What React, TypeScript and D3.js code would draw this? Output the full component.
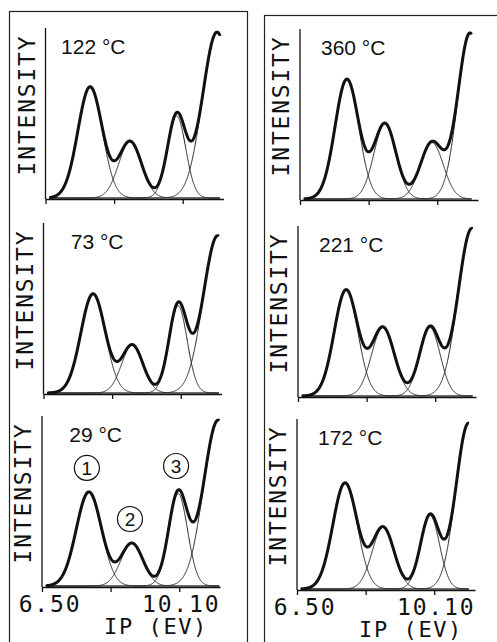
import * as d3 from 'd3';
import { useEffect, useRef } from 'react';

// panels: left column top→bottom, then right column top→bottom
const temperatures = ['122 °C', '73 °C', '29 °C', '360 °C', '221 °C', '172 °C'];

// fitted components (eV): bands 1, 2, 3 and the rising edge
const peakCenters = [
  [7.67, 8.72, 9.94, 11.0],
  [7.8, 8.83, 10.03, 11.07],
  [7.73, 8.86, 10.07, 11.12],
  [7.73, 8.73, 9.96, 10.96],
  [7.76, 8.73, 9.96, 11.06],
  [7.76, 8.76, 9.99, 11.0],
];
const peakHeights = [
  [65, 33, 48, 97],
  [58, 28, 51, 92],
  [55, 25, 54, 97],
  [70, 44, 33, 97],
  [62, 40, 40, 98],
  [62, 36, 43, 97],
];
const peakWidths = [
  [0.32, 0.3, 0.24, 0.38],
  [0.32, 0.28, 0.24, 0.38],
  [0.33, 0.29, 0.25, 0.38],
  [0.31, 0.29, 0.3, 0.32],
  [0.31, 0.3, 0.27, 0.36],
  [0.32, 0.29, 0.25, 0.33],
];
const scanStart = 6.6;
const scanEnd = [11.08, 11.1, 11.15, 11.0, 11.08, 11.01];

const xDomain = [6.5, 11.17];
const xTicks = [6.5, 8.3, 10.1];
const xTickLabels = ['6.50', '', '10.10'];
const peakLabels = ['1', '2', '3'];
const labelledPanel = 2;

const W = 497;
const H = 642;
const plotW = 178;
const plotH = 171;
const axisLeft = [
  [45.5, 43.5, 42],
  [300, 298, 297],
];
const axisBase = [
  [199, 394, 587],
  [200, 397, 590],
];
const ink = '#111';
const mono = '"DejaVu Sans Mono", "Liberation Mono", monospace';
const sans = '"Liberation Sans", Arial, sans-serif';

export default function App() {
  const ref = useRef<SVGSVGElement | null>(null);

  useEffect(() => {
    const svg = d3.select(ref.current);
    svg.selectAll('*').remove();

    svg.append('rect').attr('width', W).attr('height', H).attr('fill', '#fff');

    /* ---------- FRAMES ---------- */
    svg
      .append('rect')
      .attr('x', 9.5)
      .attr('y', 11.5)
      .attr('width', 238)
      .attr('height', 700)
      .attr('fill', 'none')
      .attr('stroke', '#222')
      .attr('stroke-width', 1.2);
    svg
      .append('rect')
      .attr('x', 264.5)
      .attr('y', 15.5)
      .attr('width', 300)
      .attr('height', 700)
      .attr('fill', 'none')
      .attr('stroke', '#222')
      .attr('stroke-width', 1.2);

    temperatures.forEach((temp, i) => {
      const col = Math.floor(i / 3);
      const row = i % 3;
      const x0 = axisLeft[col][row];
      const base = axisBase[col][row];

      const x = d3.scaleLinear().domain(xDomain).range([x0, x0 + plotW]);
      const y = d3.scaleLinear().domain([0, 100]).range([base, base - plotH]);

      const peaks = peakCenters[i].map((c, k) => ({
        c,
        h: peakHeights[i][k],
        s: peakWidths[i][k],
      }));
      const gauss = (p: { c: number; h: number; s: number }, e: number) =>
        p.h * Math.exp(-((e - p.c) ** 2) / (2 * p.s * p.s));
      const total = (e: number) => d3.sum(peaks, p => gauss(p, e));

      const grid = d3.range(scanStart, scanEnd[i], 0.005).concat([scanEnd[i]]);
      const g = svg.append('g');

      /* ---------- AXES ---------- */
      g.append('g')
        .attr('transform', `translate(0,${base})`)
        .call(
          d3
            .axisBottom(x)
            .tickValues(xTicks)
            .tickSize(5)
            .tickSizeOuter(0)
            .tickFormat(() => '')
        )
        .call(a => a.selectAll('path,line').attr('stroke', ink).attr('stroke-width', 1.3));

      g.append('line')
        .attr('x1', x0)
        .attr('x2', x0)
        .attr('y1', y(0))
        .attr('y2', y(100))
        .attr('stroke', ink)
        .attr('stroke-width', 1.3);

      /* ---------- FITTED COMPONENTS ---------- */
      peaks.forEach(p => {
        g.append('path')
          .datum(grid)
          .attr('fill', 'none')
          .attr('stroke', '#222')
          .attr('stroke-width', 1)
          .attr(
            'd',
            d3
              .line<number>()
              .x(e => x(e))
              .y(e => y(gauss(p, e)) - 1)
          );
      });

      /* ---------- MEASURED SPECTRUM ---------- */
      g.append('path')
        .datum(grid)
        .attr('fill', 'none')
        .attr('stroke', ink)
        .attr('stroke-width', 3)
        .attr('stroke-linejoin', 'round')
        .attr(
          'd',
          d3
            .line<number>()
            .x(e => x(e))
            .y(e => y(total(e)) - 1)
        );

      /* ---------- LABELS ---------- */
      g.append('text')
        .attr('transform', `translate(${x0 - 11},${base - 94}) rotate(-90)`)
        .attr('text-anchor', 'middle')
        .attr('fill', ink)
        .style('font-family', mono)
        .style('font-size', '23px')
        .style('letter-spacing', '1.8px')
        .text('INTENSITY');

      g.append('text')
        .attr('x', col === 0 ? x0 + 80 : x0 + 21)
        .attr('y', base - 145)
        .attr('text-anchor', col === 0 ? 'end' : 'start')
        .attr('fill', ink)
        .style('font-family', sans)
        .style('font-size', '21px')
        .text(temp);

      if (row === 2) {
        g.selectAll('.tick-label')
          .data(xTicks)
          .enter()
          .append('text')
          .attr('x', (d, k) => x(d) + (k === 0 ? 8 : 2))
          .attr('y', base + 25)
          .attr('text-anchor', 'middle')
          .attr('fill', ink)
          .style('font-family', mono)
          .style('font-size', '23px')
          .style('letter-spacing', '1.8px')
          .text((d, k) => xTickLabels[k]);

        g.append('text')
          .attr('x', x0 + 114)
          .attr('y', base + 47)
          .attr('text-anchor', 'middle')
          .attr('fill', ink)
          .style('font-family', mono)
          .style('font-size', '22px')
          .style('letter-spacing', '1.6px')
          .style('white-space', 'pre')
          .text('IP (EV)');
      }

      if (i === labelledPanel) {
        peakLabels.forEach((lab, k) => {
          const cx = x(peaks[k].c) - 2;
          const cy = y(total(peaks[k].c)) - 25;
          g.append('circle')
            .attr('cx', cx)
            .attr('cy', cy)
            .attr('r', 12.5)
            .attr('fill', 'none')
            .attr('stroke', ink)
            .attr('stroke-width', 1.2);
          g.append('text')
            .attr('x', cx)
            .attr('y', cy + 7)
            .attr('text-anchor', 'middle')
            .attr('fill', ink)
            .style('font-family', sans)
            .style('font-size', '19px')
            .text(lab);
        });
      }
    });
  }, []);

  return (
    <svg
      ref={ref}
      width={W}
      height={H}
      style={{ position: 'absolute', left: 0, top: 0, display: 'block' }}
    />
  );
}
